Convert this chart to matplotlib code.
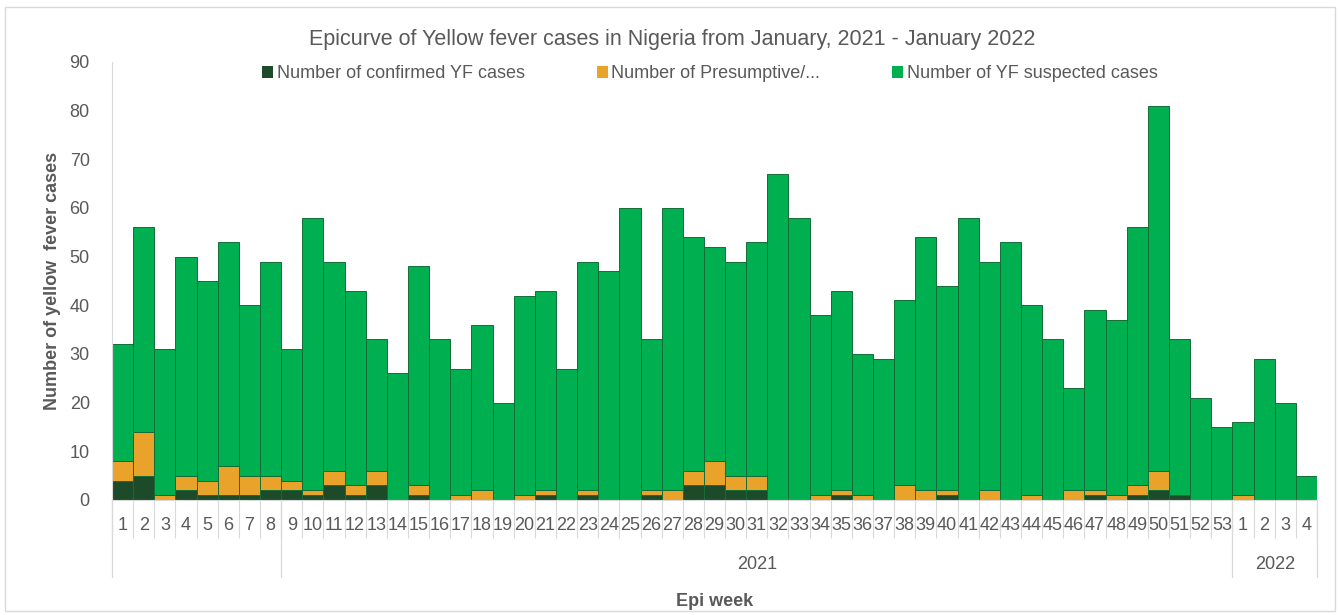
import matplotlib
matplotlib.use('Agg')
import matplotlib.pyplot as plt
from matplotlib.patches import Rectangle, Patch

plt.rcParams['font.family'] = ['Liberation Sans', 'DejaVu Sans']

# ── Data (stacked segments per epi week) ─────────────
weeks_2021 = list(range(1, 54))
weeks_2022 = [1, 2, 3, 4]
week_labels = [str(w) for w in weeks_2021 + weeks_2022]

confirmed = [4, 5, 0, 2, 1, 1, 1, 2, 2, 1, 3, 1, 3, 0, 1, 0, 0, 0, 0, 0,
             1, 0, 1, 0, 0, 1, 0, 3, 3, 2, 2, 0, 0, 0, 1, 0, 0, 0, 0, 1,
             0, 0, 0, 0, 0, 0, 1, 0, 1, 2, 1, 0, 0,
             0, 0, 0, 0]
presumptive = [4, 9, 1, 3, 3, 6, 4, 3, 2, 1, 3, 2, 3, 0, 2, 0, 1, 2, 0, 1,
               1, 0, 1, 0, 0, 1, 2, 3, 5, 3, 3, 0, 0, 1, 1, 1, 0, 3, 2, 1,
               0, 2, 0, 1, 0, 2, 1, 1, 2, 4, 0, 0, 0,
               1, 0, 0, 0]
suspected = [24, 42, 30, 45, 41, 46, 35, 44, 27, 56, 43, 40, 27, 26, 45, 33, 26, 34, 20, 41,
             41, 27, 47, 47, 60, 31, 58, 48, 44, 44, 48, 67, 58, 37, 41, 29, 29, 38, 52, 42,
             58, 47, 53, 39, 33, 21, 37, 36, 53, 75, 32, 21, 15,
             15, 29, 20, 5]

series_names = ['Number of confirmed YF cases', 'Number of Presumptive/...',
                'Number of YF suspected cases']
year_labels = ['2021', '2022']

C_CONF = '#1d4a28'
C_PRES = '#e9a32a'
C_SUSP = '#00b050'
EDGE = '#136d36'
TXT = '#595959'
GRID = '#d9d9d9'

fig = plt.figure(figsize=(13.4, 6.15), dpi=100)
ax = fig.add_axes([112 / 1340, 1 - 500 / 615, 1205 / 1340, 438 / 615])

x = list(range(len(week_labels)))
bottom2 = [c + p for c, p in zip(confirmed, presumptive)]
ax.bar(x, confirmed, width=1.0, color=C_CONF, edgecolor=EDGE, linewidth=0.7)
ax.bar(x, presumptive, width=1.0, bottom=confirmed, color=C_PRES,
       edgecolor=EDGE, linewidth=0.7)
ax.bar(x, suspected, width=1.0, bottom=bottom2, color=C_SUSP,
       edgecolor=EDGE, linewidth=0.7)

ax.set_xlim(-0.5, len(x) - 0.5)
ax.set_ylim(0, 90)
ax.set_yticks(range(0, 91, 10))
ax.tick_params(axis='y', length=0, pad=16, labelsize=13, labelcolor=TXT)

ax.set_xticks(x)
ax.set_xticklabels(week_labels)
ax.tick_params(axis='x', which='major', length=0, pad=12, labelsize=13,
               labelcolor=TXT)
ax.set_xticks([i - 0.5 for i in range(len(x) + 1)], minor=True)
ax.tick_params(axis='x', which='minor', length=27, width=0.8, color=GRID)

for s in ['top', 'right']:
    ax.spines[s].set_visible(False)
ax.spines['left'].set_color(GRID)
ax.spines['bottom'].set_color(GRID)

# year group separators and labels
n21 = len(weeks_2021)
for b in [-0.5, 7.5, n21 - 0.5, len(x) - 0.5]:
    ax.plot([b, b], [0, -0.176], transform=ax.get_xaxis_transform(),
            color=GRID, lw=0.9, clip_on=False)
ax.text((7.5 + n21 - 0.5) / 2, -0.148, year_labels[0], transform=ax.get_xaxis_transform(),
        ha='center', va='center', fontsize=13, color=TXT)
ax.text((n21 - 0.5 + len(x) - 0.5) / 2, -0.148, year_labels[1],
        transform=ax.get_xaxis_transform(), ha='center', va='center',
        fontsize=13, color=TXT)

ax.set_xlabel('Epi week', fontsize=13, fontweight='bold', color=TXT)
ax.xaxis.set_label_coords(0.5, -0.212)
ax.set_ylabel('Number of yellow  fever cases', fontsize=13, fontweight='bold',
              color=TXT)
ax.yaxis.set_label_coords(-0.042, 0.5)

fig.text(672 / 1340, 1 - 40 / 615,
         'Epicurve of Yellow fever cases in Nigeria from January, 2021 - January 2022',
         ha='center', va='center', fontsize=15.5, color=TXT)

handles = [Patch(facecolor=c, edgecolor='none') for c in (C_CONF, C_PRES, C_SUSP)]
fig.legend(handles, series_names, loc='center', ncol=3,
           bbox_to_anchor=(710 / 1340, 1 - 74 / 615), frameon=False,
           fontsize=13, labelcolor=TXT, handlelength=0.6, handleheight=0.6,
           handletextpad=0.2, columnspacing=4.0)

fig.patches.append(Rectangle((0.004, 0.006), 0.992, 0.982, transform=fig.transFigure,
                             fill=False, edgecolor=GRID, linewidth=1.0))

fig.savefig('out.png', dpi=100)
